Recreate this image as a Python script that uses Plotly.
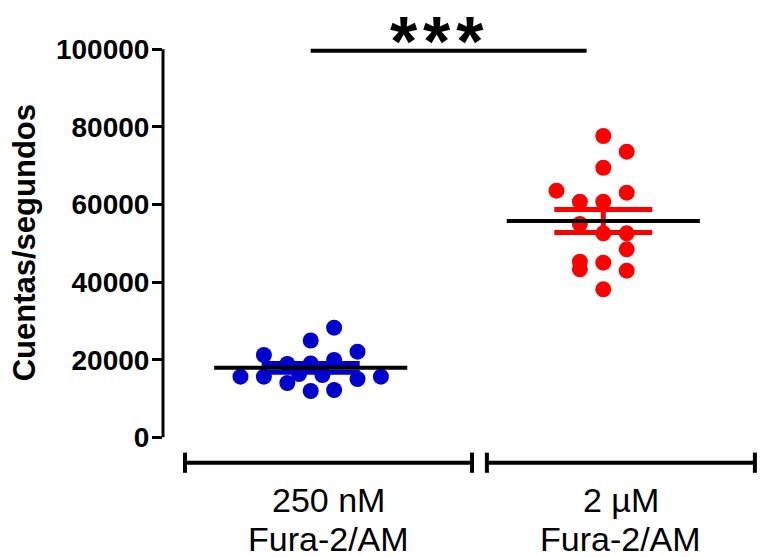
import numpy as np
import plotly.graph_objects as go

# Group labels (two lines each)
group_line1 = ["250 nM", "2 µM"]
group_line2 = ["Fura-2/AM", "Fura-2/AM"]

# Counts per second for each cell, per loading condition
blue_values = [15620, 21210, 15620, 18890, 13990, 16310, 24950, 19020,
               11930, 16060, 28250, 19920, 12190, 22060, 15030, 15620]
red_values = [63560, 60720, 54970, 45260, 43300, 77650, 69480, 60720,
              52580, 45000, 38140, 73610, 63040, 52580, 48450, 42940]

# Column slot of each dot in the scatter (horizontal spread)
blue_slots = [-3, -2, -2, -1, -1, -0.5, 0, 0, 0, 0.5, 1, 1, 1, 2, 2, 3]
red_slots = [-2, -1, -1, -1, -1, 0, 0, 0, 0, 0, 0, 1, 1, 1, 1, 1]

y_ticks = [0, 20000, 40000, 60000, 80000, 100000]
significance = "*\u200a*\u200a*"

BLUE = "#0000CC"
RED = "#FF0000"
FONT = "Liberation Sans"
STEP = 0.08          # horizontal spacing of dot columns
MEAN_HW = 0.33       # half width of mean line
AXIS_Y = -6550       # level of the broken x axis
CAP = 2600           # half height of axis end caps

centers = [1.0, 2.0]
groups = [(blue_values, blue_slots, BLUE), (red_values, red_slots, RED)]

fig = go.Figure()

for (vals, slots, col), c in zip(groups, centers):
    v = np.array(vals, dtype=float)
    xs = c + np.array(slots) * STEP
    fig.add_trace(go.Scatter(x=xs, y=v, mode="markers",
                             marker=dict(color=col, size=16, line=dict(width=0)),
                             showlegend=False, hoverinfo="y"))

for (vals, slots, col), c in zip(groups, centers):
    v = np.array(vals, dtype=float)
    mean = v.mean()
    sem = v.std(ddof=1) / np.sqrt(len(v))
    # SEM error bar
    fig.add_trace(go.Scatter(x=[c], y=[mean], mode="markers",
                             marker=dict(size=0.1, color=col, opacity=0),
                             error_y=dict(type="data", array=[sem], visible=True,
                                          color=col, thickness=5, width=49),
                             showlegend=False, hoverinfo="skip"))

for (vals, slots, col), c in zip(groups, centers):
    mean = float(np.mean(vals))
    fig.add_trace(go.Scatter(x=[c - MEAN_HW, c + MEAN_HW], y=[mean, mean],
                             mode="lines", line=dict(color="black", width=4),
                             showlegend=False, hoverinfo="skip"))

# Y axis line spanning 0..100000
fig.add_shape(type="line", xref="paper", yref="y", x0=0, x1=0,
              y0=y_ticks[0], y1=y_ticks[-1], line=dict(color="black", width=3))

# Broken x axis: one segment per group with end caps
segments = [(0.5704, 1.5513), (1.6022, 2.5181)]
for x0, x1 in segments:
    fig.add_shape(type="line", x0=x0, x1=x1, y0=AXIS_Y, y1=AXIS_Y,
                  line=dict(color="black", width=4))
    for xe in (x0, x1):
        fig.add_shape(type="line", x0=xe, x1=xe, y0=AXIS_Y - CAP, y1=AXIS_Y + CAP,
                      line=dict(color="black", width=4))

# Group labels centred under each axis segment
for (x0, x1), l1, l2 in zip(segments, group_line1, group_line2):
    xc = (x0 + x1) / 2
    fig.add_annotation(x=xc, yref="paper", y=0, yshift=-25, text=l1,
                       showarrow=False,
                       font=dict(family=FONT, size=34, color="black"),
                       xanchor="center", yanchor="middle")
    fig.add_annotation(x=xc, yref="paper", y=0, yshift=-64, text=l2,
                       showarrow=False,
                       font=dict(family=FONT, size=34, color="black"),
                       xanchor="center", yanchor="middle")

# Significance bracket
fig.add_shape(type="line", x0=1.0, x1=1.943, y0=99600, y1=99600,
              line=dict(color="black", width=4))
fig.add_annotation(x=1.43, yref="paper", y=1, text=significance, showarrow=False,
                   font=dict(family=FONT, size=70, color="black", weight="bold"),
                   xanchor="center", yanchor="top", yshift=4)

# Y axis title
fig.add_annotation(xref="paper", x=0, xshift=-139, yref="y", y=50000,
                   text="Cuentas/segundos", textangle=-90, showarrow=False,
                   font=dict(family=FONT, size=31, color="black", weight="bold"),
                   xanchor="center", yanchor="middle")

fig.update_layout(
    width=767, height=557,
    margin=dict(l=163, r=5, t=5, b=82),
    paper_bgcolor="white", plot_bgcolor="white",
    xaxis=dict(range=[0.4952, 2.5424], showgrid=False, zeroline=False,
               showline=False, showticklabels=False, ticks=""),
    yaxis=dict(range=[-9716, 111418], showgrid=False, zeroline=False,
               showline=False, tickmode="array", tickvals=y_ticks,
               ticktext=[str(t) for t in y_ticks],
               ticks="outside", ticklen=10, tickwidth=3, tickcolor="black",
               ticklabelstandoff=-3,
               tickfont=dict(family=FONT, size=28, color="black", weight="bold")),
)

fig.write_html("out.html")
